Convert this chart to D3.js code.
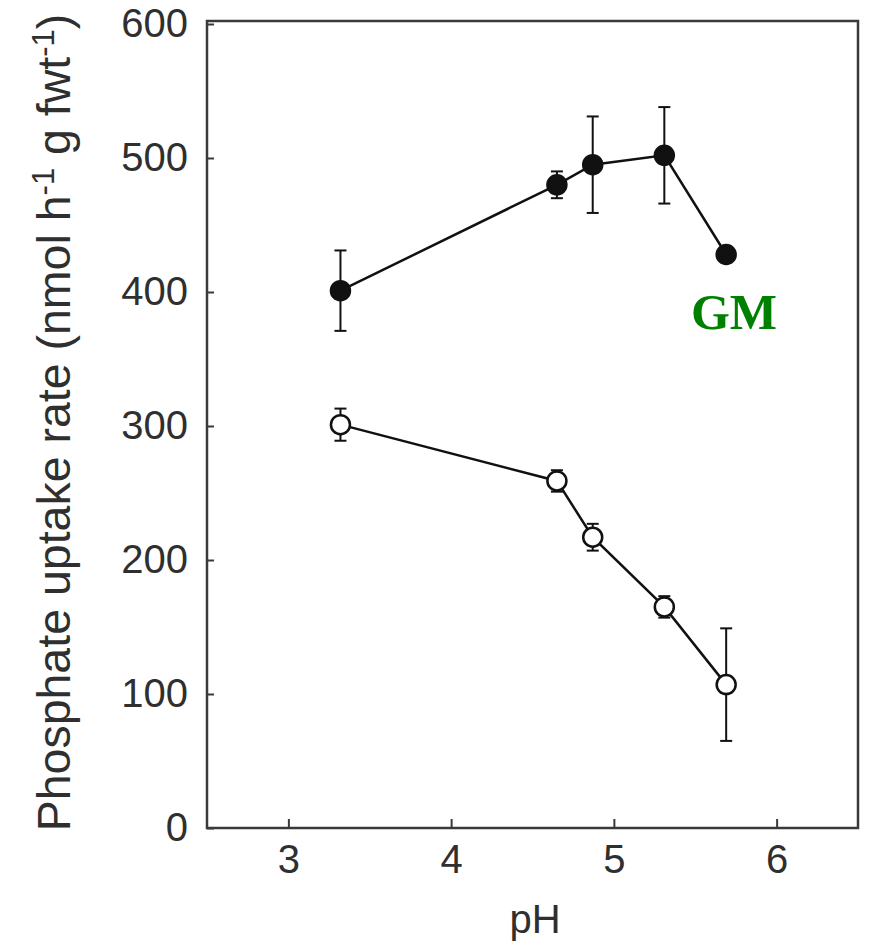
<!DOCTYPE html>
<html><head><meta charset="utf-8">
<script src="https://cdn.jsdelivr.net/npm/d3@7"></script>
<style>body{margin:0;background:#fff}</style>
</head><body>
<svg id="chart" width="870" height="947"></svg>
<script>
const pH = [3.32, 4.65, 4.87, 5.31, 5.69];
const gmValues = [401, 480, 495, 502, 428];
const gmErrors = [30, 10, 36, 36, 5];
const ctrlValues = [301, 259, 217, 165, 107];
const ctrlErrors = [12, 8, 10, 8, 42];
const xTicks = [3, 4, 5, 6];
const yTicks = [0, 100, 200, 300, 400, 500, 600];

const svg = d3.select("#chart");
const pLeft = 207, pRight = 858, pTop = 21, pBottom = 828;
const x = d3.scaleLinear().domain([2.5, 6.5]).range([pLeft, pRight]);
const y = d3.scaleLinear().domain([0, 600]).range([pBottom, 24]);
const axisColor = "#3a3a3a";
const textColor = "#2f2f2f";
const font = "Liberation Sans, Arial, sans-serif";

// frame
svg.append("rect").attr("x", pLeft).attr("y", pTop).attr("width", pRight-pLeft).attr("height", pBottom-pTop)
  .attr("fill", "none").attr("stroke", axisColor).attr("stroke-width", 2.5);

// y axis
const yAxis = svg.append("g").attr("transform", `translate(${pLeft},0)`)
  .call(d3.axisLeft(y).tickValues(yTicks).tickSize(-7).tickPadding(19).tickFormat(d3.format("d")));
yAxis.select(".domain").remove();
yAxis.selectAll("line").attr("stroke", axisColor).attr("stroke-width", 2);
yAxis.selectAll("text").attr("font-family", font).attr("font-size", 40).attr("fill", textColor);

// x axis
const xAxis = svg.append("g").attr("transform", `translate(0,${pBottom})`)
  .call(d3.axisBottom(x).tickValues(xTicks).tickSize(-9).tickPadding(17).tickFormat(d3.format("d")));
xAxis.select(".domain").remove();
xAxis.selectAll("line").attr("stroke", axisColor).attr("stroke-width", 2);
xAxis.selectAll("text").attr("font-family", font).attr("font-size", 40).attr("fill", textColor)
  .attr("dy", "0.71em");

// axis titles
svg.append("text").attr("x", 535).attr("y", 933).attr("text-anchor", "middle")
  .attr("font-family", font).attr("font-size", 40).attr("fill", textColor).text("pH");

const yt = svg.append("text").attr("transform", `translate(70,${(13+832)/2}) rotate(-90)`)
  .attr("text-anchor", "middle").attr("font-family", font).attr("font-size", 46.5).attr("fill", textColor);
yt.append("tspan").text("Phosphate uptake rate (nmol h");
yt.append("tspan").attr("dy", -16).attr("font-size", 31).text("-1");
yt.append("tspan").attr("dy", 16).text(" g fwt");
yt.append("tspan").attr("dy", -16).attr("font-size", 31).text("-1");
yt.append("tspan").attr("dy", 16).text(")");

function series(vals, errs, filled) {
  const data = pH.map((p, i) => ({p, v: vals[i], e: errs[i]}));
  const g = svg.append("g");
  g.append("path").datum(data)
    .attr("d", d3.line().x(d => x(d.p)).y(d => y(d.v)))
    .attr("fill", "none").attr("stroke", "#111").attr("stroke-width", 2.5);
  const eb = g.selectAll(".eb").data(data).enter().append("g");
  eb.append("line").attr("x1", d => x(d.p)).attr("x2", d => x(d.p))
    .attr("y1", d => y(d.v + d.e)).attr("y2", d => y(d.v - d.e))
    .attr("stroke", "#111").attr("stroke-width", 2);
  [1, -1].forEach(s => {
    eb.append("line").attr("x1", d => x(d.p) - 6).attr("x2", d => x(d.p) + 6)
      .attr("y1", d => y(d.v + s*d.e)).attr("y2", d => y(d.v + s*d.e))
      .attr("stroke", "#111").attr("stroke-width", 2);
  });
  g.selectAll("circle").data(data).enter().append("circle")
    .attr("cx", d => x(d.p)).attr("cy", d => y(d.v)).attr("r", 9.5)
    .attr("fill", filled ? "#111" : "#fff").attr("stroke", "#111").attr("stroke-width", 2.5);
}
series(gmValues, gmErrors, true);
series(ctrlValues, ctrlErrors, false);

svg.append("text").attr("x", 734).attr("y", 329).attr("text-anchor", "middle")
  .attr("font-family", "Liberation Serif, Times New Roman, serif").attr("font-weight", "bold")
  .attr("font-size", 50).attr("fill", "#008000").text("GM");
</script>
</body></html>
